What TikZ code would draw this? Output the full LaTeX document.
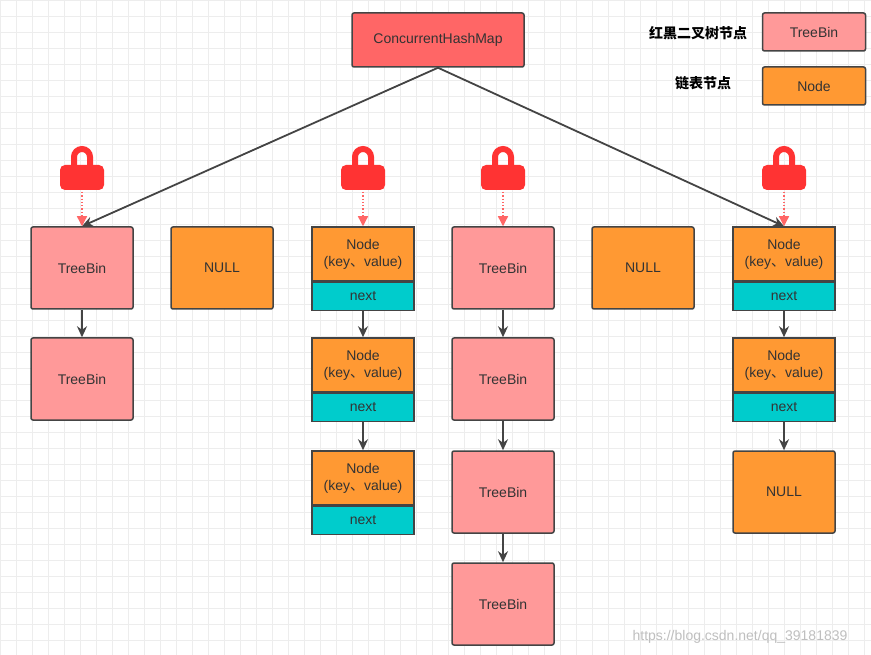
\documentclass[tikz,border=0pt]{standalone}
\usepackage{fontspec}
\setmainfont{Liberation Sans}
\newfontfamily\cjk{Noto Sans CJK SC}
\usetikzlibrary{arrows.meta}
\definecolor{pinkf}{HTML}{FF9999}
\definecolor{orangef}{HTML}{FF9933}
\definecolor{cyanf}{HTML}{00CCCC}
\definecolor{redf}{HTML}{FF6666}
\definecolor{lockc}{HTML}{FF3333}
\definecolor{edge}{HTML}{444444}
\tikzset{
 bx/.style={draw=edge,line width=1.5pt,rounded corners=2pt,minimum width=102pt,font=\fontsize{14}{17}\selectfont,text=black!80,inner sep=0pt},
 tree/.style={bx,fill=pinkf,minimum height=82pt},
 nul/.style={bx,fill=orangef,minimum height=82pt},
 ntop/.style={bx,fill=orangef,minimum height=54pt,align=center,rounded corners=0pt},
 nnext/.style={bx,fill=cyanf,minimum height=28pt,rounded corners=0pt},
 arr/.style={draw=edge,line width=1.8pt,-{Stealth[length=11pt,width=10pt]}},
 lockarr/.style={draw=redf,line width=1.3pt,dotted,-{Triangle[length=10pt,width=10pt,fill=redf]}},
}
\newcommand{\kv}{(key{\cjk 、}value)}
\newcommand{\lockat}[2]{%
 \draw[lockc,line width=6pt] (#1-8,168) -- (#1-8,157) arc[start angle=180,end angle=360,radius=8] -- (#1+8,168);
 \fill[lockc,rounded corners=5pt] (#1-22,165) rectangle (#1+22,190);
 \coordinate (#2) at (#1,192);}
\begin{document}
\begin{tikzpicture}[x=1pt,y=-1pt]
\useasboundingbox (0,0) rectangle (871,655);
\fill[white] (0,0) rectangle (871,655);
\foreach \i in {0,16,...,864} \draw[black!7,line width=0.6pt] (\i,0) -- (\i,655);
\foreach \j in {0,16,...,650} \draw[black!7,line width=0.6pt] (0,\j) -- (871,\j);
\node[bx,fill=redf,minimum width=172pt,minimum height=54pt] (chm) at (438,40) {ConcurrentHashMap};
\node[font=\cjk\fontsize{14}{17}\selectfont\bfseries] (l1) at (698,33) {红黑二叉树节点};
\node[tree,minimum height=38pt,minimum width=103pt] (lt) at (814,32) {TreeBin};
\node[font=\cjk\fontsize{14}{17}\selectfont\bfseries] (l2) at (703,83) {链表节点};
\node[nul,minimum height=38pt,minimum width=103pt] (ln) at (814,86) {Node};
% column 1
\node[tree] (a1) at (82,268) {TreeBin};
\node[tree] (a2) at (82,379) {TreeBin};
\draw[arr] (a1) -- (a2);
% column 2
\node[nul] (b1) at (222,268) {NULL};
% column 3
\node[ntop] (c1) at (363,254) {Node\\\kv};
\node[nnext,anchor=north] (c1n) at (c1.south) {next};
\node[ntop] (c2) at (363,365) {Node\\\kv};
\node[nnext,anchor=north] (c2n) at (c2.south) {next};
\node[ntop] (c3) at (363,478) {Node\\\kv};
\node[nnext,anchor=north] (c3n) at (c3.south) {next};
\draw[arr] (c1n) -- (c2);
\draw[arr] (c2n) -- (c3);
% column 4
\node[tree] (d1) at (503,268) {TreeBin};
\node[tree] (d2) at (503,379) {TreeBin};
\node[tree] (d3) at (503,492) {TreeBin};
\node[tree] (d4) at (503,604) {TreeBin};
\draw[arr] (d1) -- (d2);
\draw[arr] (d2) -- (d3);
\draw[arr] (d3) -- (d4);
% column 5
\node[nul] (e1) at (643,268) {NULL};
% column 6
\node[ntop] (f1) at (784,254) {Node\\\kv};
\node[nnext,anchor=north] (f1n) at (f1.south) {next};
\node[ntop] (f2) at (784,365) {Node\\\kv};
\node[nnext,anchor=north] (f2n) at (f2.south) {next};
\node[nul] (f3) at (784,492) {NULL};
\draw[arr] (f1n) -- (f2);
\draw[arr] (f2n) -- (f3);
% main arrows
\draw[arr] (chm.south) -- (a1.north);
\draw[arr] (chm.south) -- (f1.north);
% locks
\lockat{82}{k1}\lockat{363}{k3}\lockat{503}{k4}\lockat{784}{k6}
\draw[lockarr] (k1) -- (a1.north);
\draw[lockarr] (k3) -- (c1.north);
\draw[lockarr] (k4) -- (d1.north);
\draw[lockarr] (k6) -- (f1.north);
\node[text=black!25,font=\fontsize{14}{17}\selectfont] (wm) at (740,637) {https://blog.csdn.net/qq\_39181839};
\end{tikzpicture}
\end{document}
